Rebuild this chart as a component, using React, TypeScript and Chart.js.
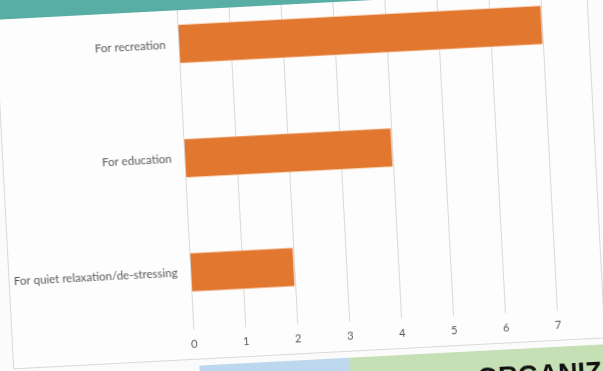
import React, { useEffect, useRef } from "react";
import { Chart, registerables } from "chart.js";
Chart.register(...registerables);

const categories = ["For recreation", "For education", "For quiet relaxation/de-stressing"];
const values = [7, 4, 2];
const xMin = 0;
const xMax = 7;
const xStep = 1;
const footerText = "ORGANIZATION";

export default function App() {
  const ref = useRef<HTMLCanvasElement | null>(null);

  useEffect(() => {
    if (!ref.current) return;
    const chart = new Chart(ref.current, {
      type: "bar",
      data: {
        labels: categories,
        datasets: [
          {
            data: values,
            backgroundColor: "#e2772f",
            borderColor: "rgba(255,235,215,0.7)",
            borderWidth: 1,
            categoryPercentage: 1,
            barPercentage: 0.35,
          },
        ],
      },
      options: {
        indexAxis: "y",
        responsive: false,
        animation: false,
        layout: { padding: { top: 25.6, right: 46.5, left: 0, bottom: 0 } },
        plugins: { legend: { display: false }, tooltip: { enabled: false } },
        scales: {
          x: {
            type: "linear",
            min: xMin,
            max: xMax,
            ticks: {
              stepSize: xStep,
              color: "#595959",
              font: { family: "Lato", size: 11 },
              padding: 8,
            },
            grid: { color: "#d9d9d9", lineWidth: 1, drawTicks: false },
            border: { display: false },
            afterFit: (s: any) => {
              s.height = 30.2;
            },
          },
          y: {
            ticks: {
              color: "#595959",
              font: { family: "Lato", size: 11.5 },
              padding: 13,
            },
            grid: { display: false, drawTicks: false },
            border: { display: false },
            afterFit: (s: any) => {
              s.width = 182.2;
            },
          },
        },
      },
    });
    return () => chart.destroy();
  }, []);

  const O = 40;
  return (
    <div
      style={{
        position: "fixed",
        left: 0,
        top: 0,
        width: 603,
        height: 371,
        overflow: "hidden",
        background: "#fbfbfb",
      }}
    >
      <div
        style={{
          position: "absolute",
          left: -O,
          top: -O,
          width: 683,
          height: 451,
          transform: "rotate(-3deg)",
          transformOrigin: "50% 50%",
          background: "#fbfbfb",
          filter: "blur(0.4px)",
        }}
      >
        <div
          style={{
            position: "absolute",
            left: 4 + O,
            top: -30 + O,
            width: 593,
            height: 384,
            border: "1px solid #d9d9d9",
            boxSizing: "border-box",
            background: "#fdfdfd",
          }}
        />
        <canvas
          ref={ref}
          width={593}
          height={399}
          style={{ position: "absolute", left: 4 + O, top: -45 + O, width: 593, height: 399 }}
        />
        <div
          style={{
            position: "absolute",
            left: 0,
            top: 0,
            width: 683,
            height: 3.5 + O,
            background: "#58ada5",
          }}
        />
        <div
          style={{
            position: "absolute",
            left: 190 + O,
            top: 360 + O,
            width: 150,
            height: 60,
            background: "#bdd7ee",
          }}
        />
        <div
          style={{
            position: "absolute",
            left: 340 + O,
            top: 360 + O,
            width: 345,
            height: 60,
            background: "#c5e0b4",
          }}
        />
        <div
          style={{
            position: "absolute",
            left: 467 + O,
            top: 374 + O,
            fontFamily: "'Liberation Sans', Arial, sans-serif",
            fontWeight: 700,
            fontSize: 27,
            lineHeight: 1,
            color: "#111",
            whiteSpace: "nowrap",
          }}
        >
          {footerText}
        </div>
      </div>
    </div>
  );
}
